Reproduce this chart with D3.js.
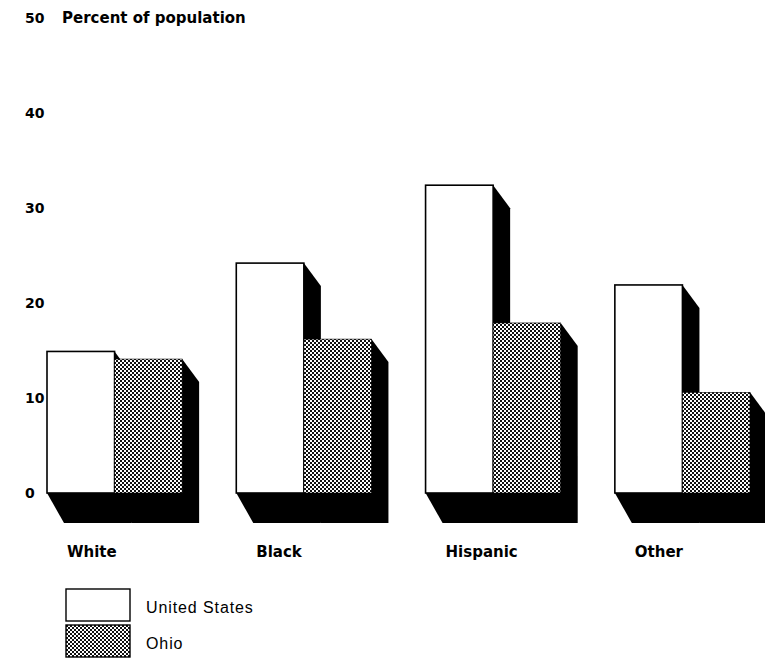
<!DOCTYPE html>
<html><head><meta charset="utf-8">
<script src="https://cdn.jsdelivr.net/npm/d3@7"></script>
<style>
html,body{margin:0;padding:0;background:#fff;}
svg{display:block;}
text{font-family:Arial,"Liberation Sans",Helvetica,sans-serif;fill:#000;}
text.bold{font-family:"DejaVu Sans",Arial,sans-serif;font-weight:bold;}
</style></head>
<body>
<script>
const categories = ["White", "Black", "Hispanic", "Other"];
const seriesNames = ["United States", "Ohio"];
const usValues = [14.9, 24.2, 32.4, 21.9];
const ohioValues = [14.1, 16.2, 17.9, 10.6];
const yTicks = [0, 10, 20, 30, 40, 50];
const yTitle = "Percent of population";

const W = 765, H = 663;
const svg = d3.select("body").append("svg").attr("width", W).attr("height", H);

const defs = svg.append("defs");
const pat = defs.append("pattern").attr("id", "dots").attr("patternUnits", "userSpaceOnUse")
  .attr("width", 4).attr("height", 4);
pat.append("rect").attr("width", 4).attr("height", 4).attr("fill", "#fff");
pat.append("rect").attr("x", 0).attr("y", 0).attr("width", 2).attr("height", 2).attr("fill", "#111");
pat.append("rect").attr("x", 2).attr("y", 2).attr("width", 2).attr("height", 2).attr("fill", "#111");

const y = d3.scaleLinear().domain([0, 50]).range([493, 18]);
const x0 = d3.scaleBand().domain(categories).range([47, 750]).paddingInner(0.286).paddingOuter(0).align(0);
const x1 = d3.scaleBand().domain(seriesNames).range([0, x0.bandwidth()]).padding(0);

const data = [];
categories.forEach((c, i) => {
  data.push({cat: c, series: seriesNames[0], v: usValues[i]});
  data.push({cat: c, series: seriesNames[1], v: ohioValues[i]});
});

const dx = 17, dyTop = 23, dyBase = 30;
const base = y(0);

// shadows
svg.append("g").selectAll("path").data(data).join("path")
  .attr("fill", "#000")
  .attr("d", d => {
    const a = x0(d.cat) + x1(d.series), b = a + x1.bandwidth(), t = y(d.v);
    return `M${b},${t}L${b+dx},${t+dyTop}L${b+dx},${base+dyBase}L${a+dx},${base+dyBase}L${a},${base}Z`;
  });

// bars
svg.append("g").selectAll("rect").data(data).join("rect")
  .attr("x", d => x0(d.cat) + x1(d.series))
  .attr("y", d => y(d.v))
  .attr("width", x1.bandwidth())
  .attr("height", d => base - y(d.v))
  .attr("fill", d => d.series === seriesNames[0] ? "#fff" : "url(#dots)")
  .attr("stroke", "#000")
  .attr("stroke-width", d => d.series === seriesNames[0] ? 1.6 : 0.6);

// y tick labels
svg.append("g").selectAll("text").data(yTicks).join("text")
  .attr("class", "bold")
  .attr("x", 25).attr("y", d => y(d)).attr("dy", "0.35em")
  .attr("font-size", 14)
  .text(d => d);

svg.append("text").attr("class", "bold").attr("x", 62).attr("y", y(50)).attr("dy", "0.35em")
  .attr("font-size", 15).text(yTitle);

// category labels
svg.append("g").selectAll("text").data(categories).join("text")
  .attr("class", "bold")
  .attr("x", d => x0(d) + 20).attr("y", 552).attr("dy", "0.35em")
  .attr("font-size", 15)
  .text(d => d);

// legend
const leg = svg.append("g").selectAll("g").data(seriesNames).join("g")
  .attr("transform", (d, i) => `translate(66,${589 + i * 36})`);
leg.append("rect").attr("width", 64).attr("height", 32)
  .attr("fill", (d, i) => i === 0 ? "#fff" : "url(#dots)")
  .attr("stroke", "#000").attr("stroke-width", 1.4);
leg.append("text").attr("x", 80).attr("y", 18).attr("dy", "0.35em")
  .attr("font-size", 16).attr("letter-spacing", 0.9).text(d => d);
</script>
</body></html>
